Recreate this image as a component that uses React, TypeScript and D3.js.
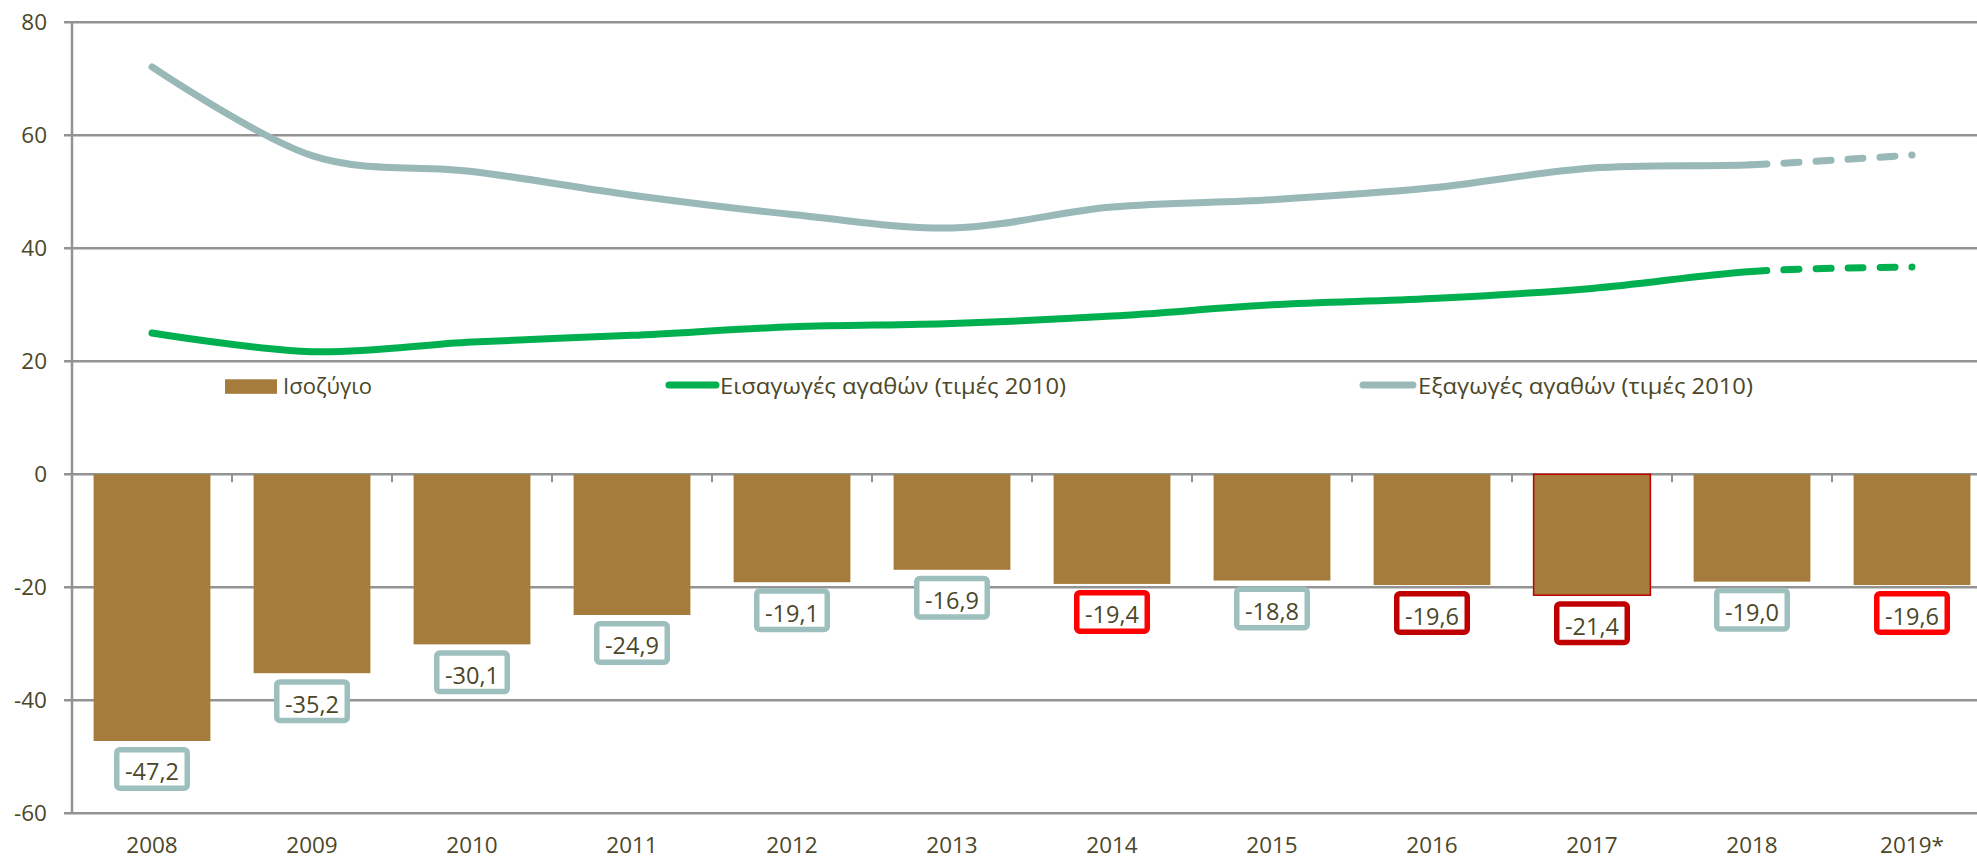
import React from "react";
import * as d3 from "d3";

const years = ["2008", "2009", "2010", "2011", "2012", "2013", "2014", "2015", "2016", "2017", "2018", "2019*"];
const balance = [-47.2, -35.2, -30.1, -24.9, -19.1, -16.9, -19.4, -18.8, -19.6, -21.4, -19.0, -19.6];
const imports = [25.0, 21.7, 23.4, 24.6, 26.1, 26.7, 28.0, 30.0, 31.1, 32.9, 35.9, 36.7];
const exportsV = [72.1, 56.4, 53.6, 49.4, 46.0, 43.6, 47.3, 48.6, 50.7, 54.2, 54.8, 56.5];
const labelKinds = ["teal", "teal", "teal", "teal", "teal", "teal", "red", "teal", "dark", "dark", "teal", "red"];
const yTicks = [-60, -40, -20, 0, 20, 40, 60, 80];
const legendLabels = ["Ισοζύγιο", "Εισαγωγές αγαθών (τιμές 2010)", "Εξαγωγές αγαθών (τιμές 2010)"];

const W = 1977;
const H = 859;
const TEXT = "#4B4728";
const GRID = "#939393";
const BAR = "#A57C3B";
const IMP = "#00B050";
const EXP = "#98B9B7";
const boxColor: Record<string, string> = { teal: "#9DBFBE", red: "#FF0000", dark: "#C00000" };
const FONT = "'Open Sans', 'DejaVu Sans', sans-serif";

export default function App() {
  const x = d3.scaleBand<string>().domain(years).range([72, 1992]).paddingInner(0).paddingOuter(0);
  const y = d3.scaleLinear().domain([-60, 80]).range([813.3, 22.3]);
  const bw = x.bandwidth();
  const barW = bw * 0.73;
  const cx = (i: number) => (x(years[i]) as number) + bw / 2;

  const line = d3
    .line<number>()
    .x((_, i) => cx(i))
    .y((d) => y(d))
    .curve(d3.curveCardinal.tension(0));

  const n = years.length;
  const dashSeg = (vals: number[]) => {
    const p0 = [cx(n - 3), y(vals[n - 3])];
    const p1 = [cx(n - 2), y(vals[n - 2])];
    const p2 = [cx(n - 1), y(vals[n - 1])];
    const k = 1 / 6;
    const c1 = [p1[0] + k * (p2[0] - p0[0]), p1[1] + k * (p2[1] - p0[1])];
    const c2 = [p2[0] + k * (p1[0] - p2[0]), p2[1] + k * (p1[1] - p2[1])];
    const p = d3.path();
    p.moveTo(p1[0], p1[1]);
    p.bezierCurveTo(c1[0], c1[1], c2[0], c2[1], p2[0], p2[1]);
    return p.toString();
  };

  const solidEnd = cx(n - 2);
  const y0 = y(0);

  return (
    <svg
      width={W}
      height={H}
      style={{ position: "absolute", left: 0, top: 0, background: "#fff" }}
      fontFamily={FONT}
    >
      <defs>
        <clipPath id="solidClip">
          <rect x={0} y={0} width={solidEnd} height={H} />
        </clipPath>
      </defs>

      {/* gridlines */}
      {yTicks.map((t) => (
        <g key={t}>
          <line x1={64} x2={W} y1={y(t)} y2={y(t)} stroke={GRID} strokeWidth={2.5} />
          <text x={47} y={y(t) + 8} textAnchor="end" fontSize={22.5} fill={TEXT}>
            {t}
          </text>
        </g>
      ))}
      {/* y axis */}
      <line x1={72} x2={72} y1={y(80)} y2={y(-60)} stroke={GRID} strokeWidth={2.5} />

      {/* bars */}
      {balance.map((v, i) => (
        <rect
          key={years[i]}
          x={cx(i) - barW / 2}
          y={y0}
          width={barW}
          height={y(v) - y0}
          fill={BAR}
          stroke={i === 9 ? "#C00000" : "none"}
          strokeWidth={1.5}
        />
      ))}

      {/* category ticks on zero line */}
      {years.slice(1).map((yr) => (
        <line key={yr} x1={x(yr) as number} x2={x(yr) as number} y1={y0} y2={y0 + 8} stroke={GRID} strokeWidth={2} />
      ))}

      {/* year labels */}
      {years.map((yr, i) => (
        <text key={yr} x={cx(i)} y={853} textAnchor="middle" fontSize={22.5} fill={TEXT}>
          {yr}
        </text>
      ))}

      {/* value label boxes */}
      {balance.map((v, i) => {
        const top = y(v) + 6;
        const sw = 5.5;
        return (
          <g key={"lb" + years[i]}>
            <rect
              x={cx(i) - 38 + sw / 2}
              y={top + sw / 2}
              width={76 - sw}
              height={44 - sw}
              rx={3}
              fill="#fff"
              stroke={boxColor[labelKinds[i]]}
              strokeWidth={sw}
            />
            <text x={cx(i)} y={top + 33.5} textAnchor="middle" fontSize={23.5} fill={TEXT}>
              {v.toFixed(1).replace(".", ",")}
            </text>
          </g>
        );
      })}

      {/* lines */}
      <path d={line(exportsV) || ""} fill="none" stroke={EXP} strokeWidth={7} strokeLinecap="round" clipPath="url(#solidClip)" />
      <path d={dashSeg(exportsV)} fill="none" stroke={EXP} strokeWidth={7} strokeLinecap="round" strokeDasharray="15 17" />
      <path d={line(imports) || ""} fill="none" stroke={IMP} strokeWidth={7} strokeLinecap="round" clipPath="url(#solidClip)" />
      <path d={dashSeg(imports)} fill="none" stroke={IMP} strokeWidth={7} strokeLinecap="round" strokeDasharray="15 17" />

      {/* legend */}
      <rect x={225} y={379.3} width={52} height={14.5} fill={BAR} />
      <text x={283} y={394} fontSize={22} fill={TEXT} textLength={89} lengthAdjust="spacingAndGlyphs">
        {legendLabels[0]}
      </text>
      <line x1={669} x2={716} y1={385} y2={385} stroke={IMP} strokeWidth={7} strokeLinecap="round" />
      <text x={720} y={394} fontSize={22} fill={TEXT} textLength={346} lengthAdjust="spacingAndGlyphs">
        {legendLabels[1]}
      </text>
      <line x1={1363} x2={1413} y1={385} y2={385} stroke={EXP} strokeWidth={7} strokeLinecap="round" />
      <text x={1418} y={394} fontSize={22} fill={TEXT} textLength={335} lengthAdjust="spacingAndGlyphs">
        {legendLabels[2]}
      </text>
    </svg>
  );
}
